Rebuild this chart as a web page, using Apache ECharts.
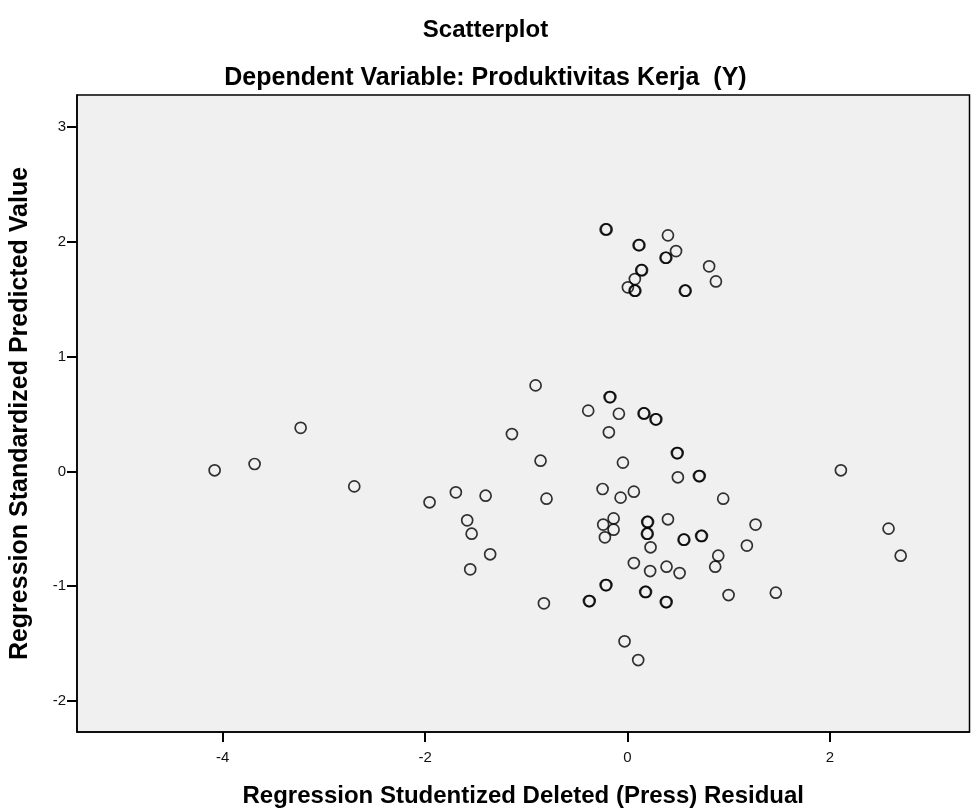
<!DOCTYPE html>
<html>
<head>
<meta charset="utf-8">
<script src="https://cdn.jsdelivr.net/npm/echarts@6/dist/echarts.min.js"></script>
<style>
  html, body { margin: 0; padding: 0; background: #fff; }
  #chart { width: 971px; height: 811px; }
</style>
</head>
<body>
<div id="chart"></div>
<script>
// studentized deleted residual (x) vs standardized predicted value (y)
var residuals = [
  -0.216, -0.206, 0.11, 0.118, 0.40, 0.48, 0.376, 0.384, 0.807, 0.874, 0.136, 0.144, 0.073, 0.004, 0.07, 0.078, 0.567, 0.575,
  -0.908, -0.177, -0.169, -0.388, -0.085, 0.159, 0.167, 0.277, 0.285, -1.142, -0.184, 0.488, 0.496, -0.859, -0.045,
  0.498, 0.706, 0.714, -0.80, -0.246, -0.068, 0.063, 0.946,
  -4.08, -3.685, -3.23, -2.70,
  -1.956, -1.696, -1.402, -1.584, -1.54, -1.357, -1.554, -0.826, -0.381, -0.373,
  -0.137, -0.24, -0.137, -0.223, 0.195, 0.203, 0.192, 0.200, 0.40, 0.228, 0.554, 0.562, 0.728, 0.736,
  1.266, 1.18, 0.897, 0.867, 0.063, 0.224, 0.386, 0.515, -0.216, -0.208, 0.175, 0.183, 0.379, 0.387,
  0.999, 1.466, -0.029, 0.106,
  2.109, 2.58, 2.70
];
var predicted = [
  2.109, 2.109, 1.972, 1.972, 2.057, 1.92, 1.862, 1.862, 1.787, 1.656, 1.754, 1.754, 1.676, 1.604, 1.575, 1.575, 1.575, 1.575,
  0.75, 0.648, 0.648, 0.53, 0.503, 0.506, 0.506, 0.454, 0.454, 0.326, 0.341, 0.16, 0.16, 0.094, 0.077,
  -0.051, -0.04, -0.04, -0.237, -0.153, -0.228, -0.176, -0.237,
  0.01, 0.065, 0.38, -0.13,
  -0.269, -0.182, -0.211, -0.426, -0.542, -0.722, -0.853, -1.149, -1.129, -1.129,
  -0.409, -0.463, -0.507, -0.574, -0.44, -0.44, -0.542, -0.542, -0.417, -0.661, -0.594, -0.594, -0.562, -0.562,
  -0.463, -0.646, -0.734, -0.83, -0.798, -0.868, -0.83, -0.885, -0.99, -0.99, -1.05, -1.05, -1.138, -1.138,
  -1.077, -1.056, -1.48, -1.643,
  0.01, -0.498, -0.734
];
var xTicks = [-4, -2, 0, 2];
var yTicks = [-2, -1, 0, 1, 2, 3];

var points = residuals.map(function (r, i) { return [r, predicted[i]]; });

var chart = echarts.init(document.getElementById('chart'));
var font = 'Liberation Sans, Arial, sans-serif';

chart.setOption({
  animation: false,
  backgroundColor: '#ffffff',
  title: [
    { text: 'Scatterplot', left: 'center', top: 13,
      textStyle: { fontFamily: font, fontSize: 24, fontWeight: 'bold', color: '#000' } },
    { text: 'Dependent Variable: Produktivitas Kerja  (Y)', left: 'center', top: 61,
      textStyle: { fontFamily: font, fontSize: 25, fontWeight: 'bold', color: '#000' } }
  ],
  grid: {
    left: 77, right: 1.5, top: 95, bottom: 79,
    outerBoundsMode: 'none', containLabel: false,
    show: true, backgroundColor: '#f0f0f0', borderColor: '#000', borderWidth: 1.5
  },
  xAxis: {
    type: 'value', min: -5.44, max: 3.38,
    name: 'Regression Studentized Deleted (Press) Residual',
    nameLocation: 'middle', nameGap: 52,
    nameTextStyle: { fontFamily: font, fontSize: 24, fontWeight: 'bold', color: '#000' },
    axisLine: { show: true, onZero: false, lineStyle: { color: '#000', width: 1.5 } },
    axisTick: { show: true, length: 10, customValues: xTicks, lineStyle: { color: '#000', width: 2 } },
    axisLabel: { customValues: xTicks, margin: 18, fontFamily: font, fontSize: 15, color: '#111' },
    splitLine: { show: false }
  },
  yAxis: {
    type: 'value', min: -2.27, max: 3.28,
    name: 'Regression Standardized Predicted Value',
    nameLocation: 'middle', nameGap: 44,
    nameTextStyle: { fontFamily: font, fontSize: 25, fontWeight: 'bold', color: '#000' },
    axisLine: { show: true, onZero: false, lineStyle: { color: '#000', width: 1.5 } },
    axisTick: { show: true, length: 10, customValues: yTicks, lineStyle: { color: '#000', width: 2 } },
    axisLabel: { customValues: yTicks, margin: 11, fontFamily: font, fontSize: 15, color: '#111' },
    splitLine: { show: false }
  },
  series: [{
    type: 'scatter',
    data: points,
    symbol: 'circle',
    symbolSize: 11,
    itemStyle: { color: 'rgba(0,0,0,0)', borderColor: '#000', borderWidth: 1.7 }
  }]
});
</script>
</body>
</html>
